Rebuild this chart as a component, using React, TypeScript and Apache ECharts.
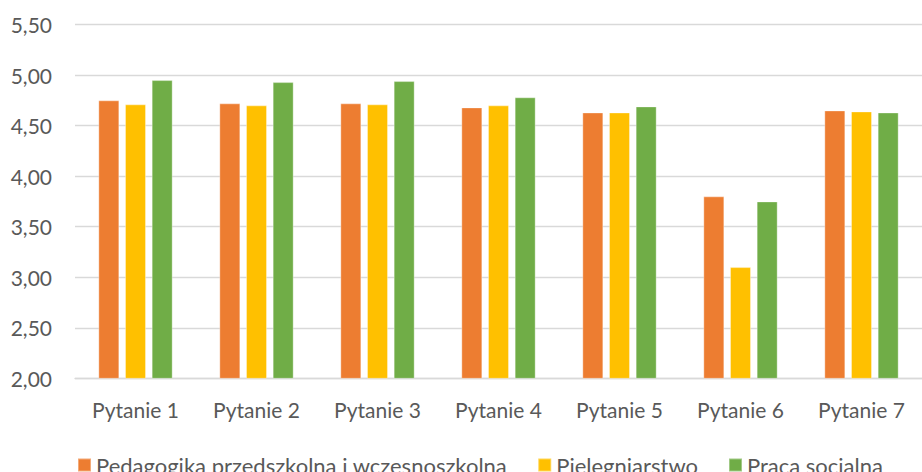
import React, { useEffect, useRef } from "react";
import * as echarts from "echarts";

const categories = ["Pytanie 1", "Pytanie 2", "Pytanie 3", "Pytanie 4", "Pytanie 5", "Pytanie 6", "Pytanie 7"];
const seriesNames = ["Pedagogika przedszkolna i wczesnoszkolna", "Pielęgniarstwo", "Praca socjalna"];
const pedagogika = [4.75, 4.72, 4.72, 4.68, 4.63, 3.80, 4.65];
const pielegniarstwo = [4.71, 4.7, 4.71, 4.7, 4.63, 3.10, 4.64];
const pracaSocjalna = [4.95, 4.93, 4.94, 4.78, 4.69, 3.75, 4.63];
const colors = ["#ED7D31", "#FFC000", "#70AD47"];
const yMin = 2;
const yMax = 5.5;
const yStep = 0.5;

const FONT = "Lato";
const TEXT = "#595959";

export default function App() {
  const ref = useRef<HTMLDivElement>(null);
  useEffect(() => {
    document.body.style.margin = "0";
    if (!ref.current) return;
    const chart = echarts.init(ref.current, null, { renderer: "svg" });
    const values = [pedagogika, pielegniarstwo, pracaSocjalna];
    chart.setOption({
      animation: false,
      backgroundColor: "#ffffff",
      textStyle: { fontFamily: FONT, color: TEXT },
      grid: { left: 75, right: 0, top: 24.5, bottom: 93.7, containLabel: false },
      legend: {
        left: 72,
        top: 449,
        itemWidth: 13,
        itemHeight: 13,
        itemGap: 30,
        icon: "rect",
        textStyle: { fontFamily: FONT, fontSize: 22, color: TEXT },
        data: seriesNames,
      },
      xAxis: {
        type: "category",
        data: categories,
        axisLine: { show: true, lineStyle: { color: "#D9D9D9", width: 1.3 } },
        axisTick: { show: false },
        axisLabel: { fontFamily: FONT, fontSize: 21, color: TEXT, margin: 21 },
      },
      yAxis: {
        type: "value",
        min: yMin,
        max: yMax,
        interval: yStep,
        axisLine: { show: false },
        axisTick: { show: false },
        splitLine: { lineStyle: { color: "#D9D9D9", width: 1.3 } },
        axisLabel: {
          fontFamily: FONT,
          fontSize: 21,
          color: TEXT,
          margin: 23,
          formatter: (v: number) => v.toFixed(2).replace(".", ","),
        },
      },
      series: seriesNames.map((name, i) => ({
        name,
        type: "bar",
        data: values[i],
        barWidth: 21,
        barGap: "27%",
        itemStyle: { color: colors[i], borderColor: "rgba(255,255,255,0.35)", borderWidth: 1 },
      })),
    });
    return () => chart.dispose();
  }, []);
  return <div ref={ref} style={{ width: 922, height: 472 }} />;
}
